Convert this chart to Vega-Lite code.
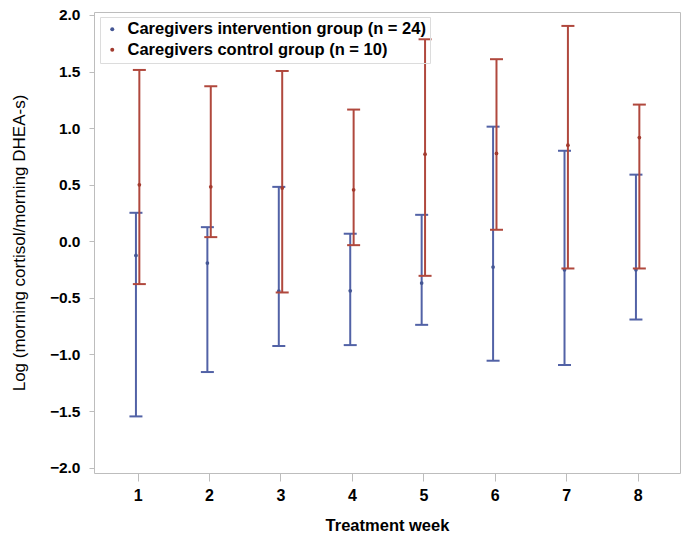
{
  "$schema": "https://vega.github.io/schema/vega-lite/v6.json",
  "width": 586,
  "height": 461,
  "autosize": {"type": "none"},
  "padding": {"left": 94, "top": 12, "right": 3, "bottom": 62},
  "background": "white",
  "config": {
    "font": "Liberation Sans",
    "view": {"stroke": "#bdbdbd", "strokeWidth": 1},
    "axis": {"grid": false, "domain": false, "tickColor": "#bdbdbd", "labelColor": "#000", "titleColor": "#000", "labelFont": "Liberation Sans", "titleFont": "Liberation Sans"}
  },
  "data": {
    "values": [
      {"week": 1, "group": "Caregivers intervention group (n = 24)", "mean": -0.125, "lower": -1.547, "upper": 0.252},
      {"week": 2, "group": "Caregivers intervention group (n = 24)", "mean": -0.192, "lower": -1.155, "upper": 0.125},
      {"week": 3, "group": "Caregivers intervention group (n = 24)", "mean": -0.44, "lower": -0.925, "upper": 0.481},
      {"week": 4, "group": "Caregivers intervention group (n = 24)", "mean": -0.437, "lower": -0.917, "upper": 0.067},
      {"week": 5, "group": "Caregivers intervention group (n = 24)", "mean": -0.369, "lower": -0.738, "upper": 0.234},
      {"week": 6, "group": "Caregivers intervention group (n = 24)", "mean": -0.228, "lower": -1.055, "upper": 1.013},
      {"week": 7, "group": "Caregivers intervention group (n = 24)", "mean": -0.252, "lower": -1.093, "upper": 0.8},
      {"week": 8, "group": "Caregivers intervention group (n = 24)", "mean": -0.252, "lower": -0.691, "upper": 0.589},
      {"week": 1, "group": "Caregivers control group (n = 10)", "mean": 0.499, "lower": -0.378, "upper": 1.514},
      {"week": 2, "group": "Caregivers control group (n = 10)", "mean": 0.481, "lower": 0.037, "upper": 1.37},
      {"week": 3, "group": "Caregivers control group (n = 10)", "mean": 0.47, "lower": -0.452, "upper": 1.505},
      {"week": 4, "group": "Caregivers control group (n = 10)", "mean": 0.455, "lower": -0.034, "upper": 1.164},
      {"week": 5, "group": "Caregivers control group (n = 10)", "mean": 0.77, "lower": -0.305, "upper": 1.785},
      {"week": 6, "group": "Caregivers control group (n = 10)", "mean": 0.776, "lower": 0.102, "upper": 1.609},
      {"week": 7, "group": "Caregivers control group (n = 10)", "mean": 0.849, "lower": -0.24, "upper": 1.903},
      {"week": 8, "group": "Caregivers control group (n = 10)", "mean": 0.917, "lower": -0.24, "upper": 1.208}
    ]
  },
  "encoding": {
    "x": {
      "field": "week", "type": "quantitative",
      "scale": {"domain": [0.389, 8.593], "nice": false, "zero": false},
      "axis": {"title": "Treatment week", "values": [1, 2, 3, 4, 5, 6, 7, 8], "format": "d", "labelFontSize": 16, "labelFontWeight": "bold", "tickSize": 8, "labelPadding": 6, "titleFontSize": 16.5, "titleFontWeight": "bold", "titlePadding": 14}
    }
  },
  "layer": [
    {
      "transform": [{"filter": "datum.group === 'Caregivers intervention group (n = 24)'"}],
      "layer": [
        {"mark": {"type": "rule", "color": "#5262a6", "strokeWidth": 2, "xOffset": -1.7},
         "encoding": {"y": {"field": "lower", "type": "quantitative", "scale": {"domain": [-2.047, 2.026], "nice": false, "zero": false},
           "axis": {"title": "Log (morning cortisol/morning DHEA-s)", "values": [-2, -1.5, -1, -0.5, 0, 0.5, 1, 1.5, 2], "format": ".1f", "labelFontSize": 15.5, "labelFontWeight": "bold", "tickSize": 5, "labelPadding": 9, "titleFontSize": 17, "titleFontWeight": "normal", "titlePadding": 21}},
           "y2": {"field": "upper"}}},
        {"mark": {"type": "tick", "orient": "horizontal", "color": "#5262a6", "size": 13, "thickness": 2, "xOffset": -1.7, "opacity": 1},
         "encoding": {"y": {"field": "lower", "type": "quantitative"}}},
        {"mark": {"type": "tick", "orient": "horizontal", "color": "#5262a6", "size": 13, "thickness": 2, "xOffset": -1.7, "opacity": 1},
         "encoding": {"y": {"field": "upper", "type": "quantitative"}}},
        {"mark": {"type": "point", "filled": true, "shape": "circle", "size": 14, "opacity": 1, "xOffset": -1.7},
         "encoding": {"y": {"field": "mean", "type": "quantitative"},
           "color": {"field": "group", "type": "nominal",
             "scale": {"domain": ["Caregivers intervention group (n = 24)", "Caregivers control group (n = 10)"], "range": ["#445694", "#a23a2e"]},
             "legend": {"title": null, "orient": "none", "legendX": 6, "legendY": 5, "symbolType": "circle", "symbolSize": 16, "labelFontSize": 16.5, "labelFontWeight": "bold", "labelColor": "#000", "labelOffset": 7, "rowPadding": 3.5, "padding": 4, "strokeColor": "#dcdcdc", "labelLimit": 400}}}}
      ]
    },
    {
      "transform": [{"filter": "datum.group === 'Caregivers control group (n = 10)'"}],
      "layer": [
        {"mark": {"type": "rule", "color": "#b0483d", "strokeWidth": 2, "xOffset": 1.7},
         "encoding": {"y": {"field": "lower", "type": "quantitative"}, "y2": {"field": "upper"}}},
        {"mark": {"type": "tick", "orient": "horizontal", "color": "#b0483d", "size": 13, "thickness": 2, "xOffset": 1.7, "opacity": 1},
         "encoding": {"y": {"field": "lower", "type": "quantitative"}}},
        {"mark": {"type": "tick", "orient": "horizontal", "color": "#b0483d", "size": 13, "thickness": 2, "xOffset": 1.7, "opacity": 1},
         "encoding": {"y": {"field": "upper", "type": "quantitative"}}},
        {"mark": {"type": "point", "filled": true, "shape": "circle", "size": 14, "opacity": 1, "xOffset": 1.7},
         "encoding": {"y": {"field": "mean", "type": "quantitative"},
           "color": {"field": "group", "type": "nominal"}}}
      ]
    }
  ]
}
